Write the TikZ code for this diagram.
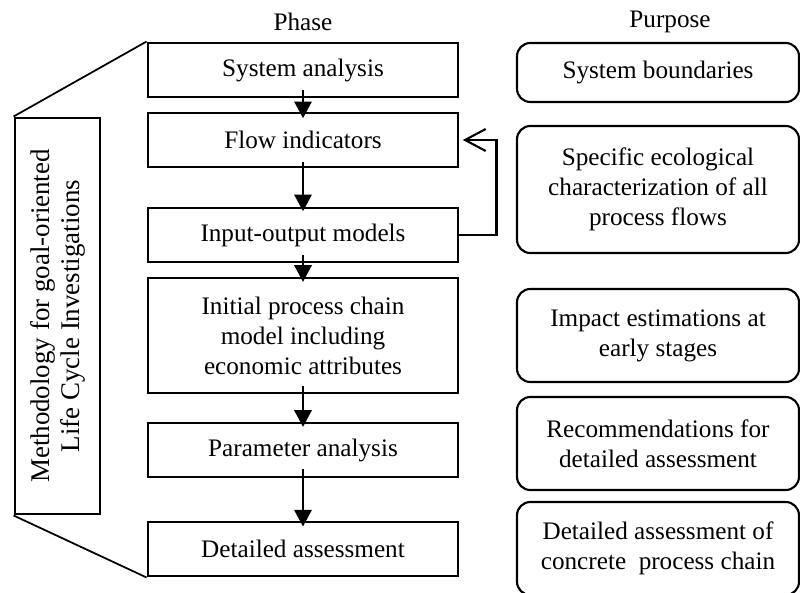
\documentclass[tikz,border=0pt]{standalone}
\usepackage{fontspec}
\setmainfont{Liberation Serif}
\usepackage{tikz}
\usetikzlibrary{arrows.meta}
\tikzstyle{phase} = [rectangle, minimum width=9.3cm, minimum height=1.62cm, text centered, align=center, draw=black, line width=2.5pt, font=\fontsize{21.5}{25.6}\selectfont]
\tikzstyle{purpose} = [rectangle, rounded corners=0.4cm, minimum width=8.46cm, text centered, align=center, draw=black, line width=1.8pt, font=\fontsize{21.5}{25.6}\selectfont]
\tikzstyle{method} = [rectangle, rotate=90, minimum width=11.88cm, minimum height=2.55cm, align=center, draw=black, line width=2.5pt, font=\fontsize{23}{25.6}\selectfont]
\tikzstyle{header} = [font=\fontsize{21.5}{25.6}\selectfont]
\tikzstyle{arr} = [black, line width=1.8pt, -{Triangle[length=0.5cm, width=0.52cm]}]
\tikzstyle{fb} = [black, line width=1.8pt, -{Straight Barb[length=0.62cm, width=0.66cm]}]
\tikzstyle{edge} = [black, line width=1.5pt]

\begin{document}
\begin{tikzpicture}
	\useasboundingbox (0,0) rectangle (24,-17.76);
	\clip (0,0) rectangle (24,-17.76);

	\node (phase_head) at (9.09,-0.66) [header] {Phase};
	\node (purpose_head) at (20.1,-0.66) [header] {Purpose};

	% phases
	\node (sys) at (9.09,-2.1) [phase] {System analysis};
	\node (flow) at (9.09,-4.2) [phase] {Flow indicators};
	\node (io) at (9.09,-7.05) [phase] {Input-output models};
	\node (chain) at (9.09,-10.065) [phase, minimum height=3.45cm] {Initial process chain\\model including\\economic attributes};
	\node (param) at (9.09,-13.5) [phase] {Parameter analysis};
	\node (detail) at (9.09,-16.47) [phase] {Detailed assessment};

	\draw [arr] ([yshift=0.24cm]sys.south)--([yshift=-0.2cm]flow.north);
	\draw [arr] ([yshift=0.2cm]flow.south)--([yshift=-0.14cm]io.north);
	\draw [arr] ([yshift=0.24cm]io.south)--([yshift=-0.16cm]chain.north);
	\draw [arr] ([yshift=0.24cm]chain.south)--([yshift=-0.16cm]param.north);
	\draw [arr] ([yshift=0.27cm]param.south)--([yshift=-0.18cm]detail.north);
	\draw [fb] (io.east) -- ++(1.11,0) |- ([xshift=0.1cm]flow.east);

	% methodology
	\node (meth) at (1.725,-9.48) [method] {Methodology for goal-oriented\\Life Cycle Investigations};
	\draw [edge] (meth.north east)--(sys.north west);
	\draw [edge] (meth.north west)--(detail.south west);

	% purposes
	\node (p_bound) at (19.74,-2.175) [purpose, minimum height=1.77cm] {System boundaries};
	\node (p_eco) at (19.74,-5.685) [purpose, minimum height=3.81cm] {Specific ecological\\characterization of all\\process flows};
	\node (p_impact) at (19.74,-10.065) [purpose, minimum height=2.79cm] {Impact estimations at\\early stages};
	\node (p_recom) at (19.74,-13.305) [purpose, minimum height=2.79cm] {Recommendations for\\detailed assessment};
	\node (p_detail) at (19.74,-16.455) [purpose, minimum height=2.79cm] {Detailed assessment of\\concrete\ \ process chain};

\end{tikzpicture}
\end{document}
